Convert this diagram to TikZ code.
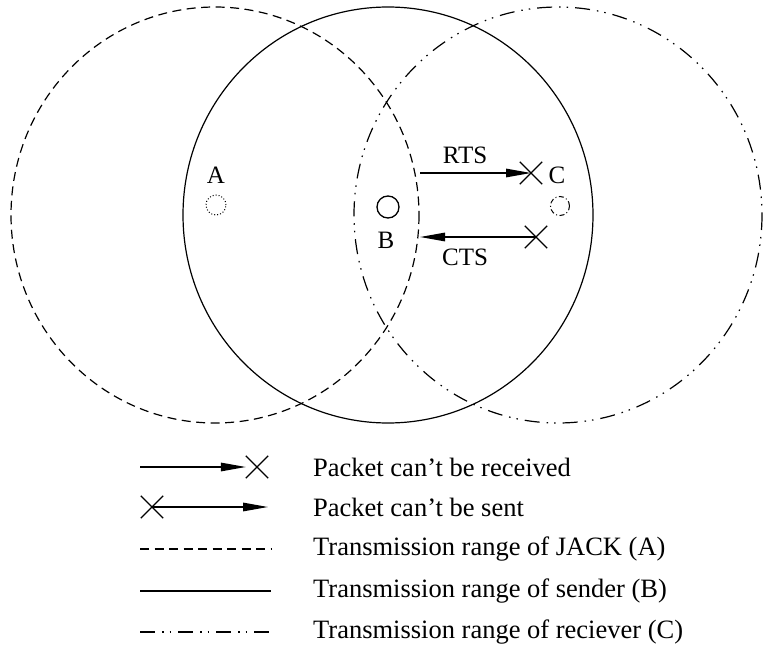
\documentclass[tikz,border=0pt]{standalone}
\usepackage{fontspec}
\setmainfont{Liberation Serif}
\usetikzlibrary{arrows.meta,shapes.misc}
\begin{document}
\begin{tikzpicture}[x=1pt,y=-1pt,
  every node/.style={font=\fontsize{25}{30}\selectfont, inner sep=0pt},
  rangeA/.style={line width=1.2pt, dash pattern=on 9pt off 5.5pt},
  rangeB/.style={line width=1.2pt},
  rangeC/.style={line width=1.2pt, dash pattern=on 15pt off 7pt on 1.5pt off 6pt on 1.5pt off 7pt},
  xmark/.style={cross out, draw, line width=1.3pt, minimum size=21pt, inner sep=0pt},
  msg/.style={line width=1.4pt, -{Triangle[length=25pt,width=8.5pt]}},
  legtext/.style={anchor=west, font=\fontsize{26.5}{32}\selectfont},
]
\useasboundingbox (0,0) rectangle (764,653);
% transmission ranges
\draw[rangeA] (215,215) ellipse [x radius=204, y radius=208];
\draw[rangeB] (388,215) ellipse [x radius=205, y radius=208];
\draw[rangeC] (558,215) ellipse [x radius=204, y radius=208];
% stations
\node[circle, draw, dotted, line width=1pt, minimum size=20pt] (nA) at (216,205) {};
\node[circle, draw, line width=1.3pt, minimum size=22pt] (nB) at (388,207) {};
\node[circle, draw, line width=1pt, dash pattern=on 5pt off 2.5pt on 1pt off 2.5pt, minimum size=19pt] (nC) at (560,206) {};
\node (lA) at (216,175) {A};
\node (lB) at (386,240) {B};
\node (lC) at (557,175) {C};
% messages
\coordinate (rs) at (420,173);
\node[xmark] (xR) at (531,173) {};
\draw[msg] (rs) -- (xR.center);
\node (tR) at (465,155) {RTS};
\coordinate (ce) at (420,237);
\node[xmark] (xC) at (536,237) {};
\draw[msg] (xC.center) -- (ce);
\node (tC) at (465,257) {CTS};
% legend
\coordinate (l1a) at (140,467);
\node[xmark] (l1x) at (257,467) {};
\draw[msg] (l1a) -- (l1x.west);
\node[legtext] (t1) at (313,467) {Packet can’t be received};
\node[xmark] (l2x) at (152,507) {};
\coordinate (l2b) at (268,507);
\draw[msg] (l2x.center) -- (l2b);
\node[legtext] (t2) at (313,507) {Packet can’t be sent};
\coordinate (l3a) at (140,549);
\coordinate (l3b) at (271,549);
\draw[rangeA] (l3a) -- (l3b);
\node[legtext] (t3) at (313,549) {Transmission range of JACK (A)};
\coordinate (l4a) at (140,591);
\coordinate (l4b) at (271,591);
\draw[rangeB] (l4a) -- (l4b);
\node[legtext] (t4) at (313,591) {Transmission range of sender (B)};
\coordinate (l5a) at (140,632);
\coordinate (l5b) at (271,632);
\draw[rangeC] (l5a) -- (l5b);
\node[legtext] (t5) at (313,632) {Transmission range of reciever (C)};
\end{tikzpicture}
\end{document}
